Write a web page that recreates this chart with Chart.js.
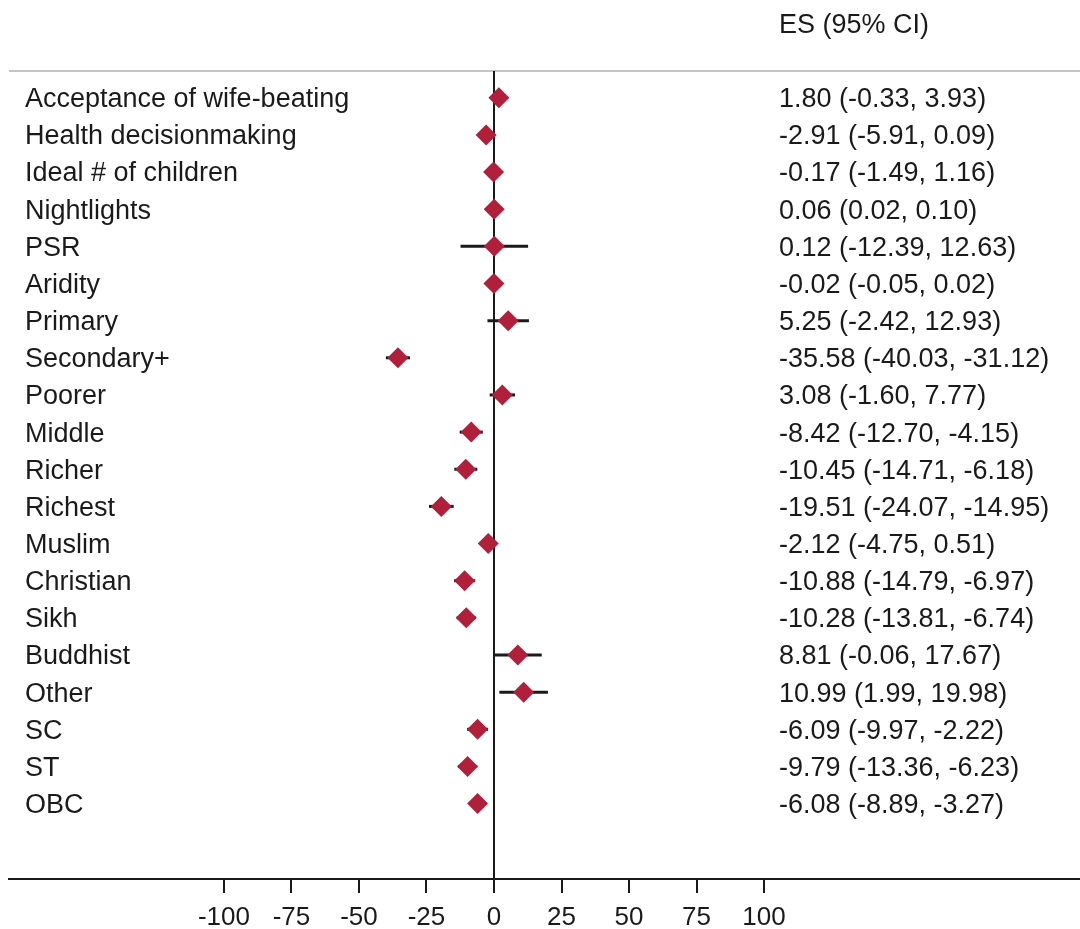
<!DOCTYPE html>
<html>
<head>
<meta charset="utf-8">
<script src="https://cdn.jsdelivr.net/npm/chart.js@4/dist/chart.umd.min.js"></script>
<style>
    html, body { margin: 0; padding: 0; background: #fff; }
    #wrap { width: 1080px; height: 929px; position: relative; }
</style>
</head>
<body>
<div id="wrap"><canvas id="chart"></canvas></div>
<script>
const labels = [
    'Acceptance of wife-beating', 'Health decisionmaking', 'Ideal # of children',
    'Nightlights', 'PSR', 'Aridity', 'Primary', 'Secondary+', 'Poorer', 'Middle',
    'Richer', 'Richest', 'Muslim', 'Christian', 'Sikh', 'Buddhist', 'Other',
    'SC', 'ST', 'OBC',
]
const es = [1.80, -2.91, -0.17, 0.06, 0.12, -0.02, 5.25, -35.58, 3.08, -8.42,
    -10.45, -19.51, -2.12, -10.88, -10.28, 8.81, 10.99, -6.09, -9.79, -6.08]
const lo = [-0.33, -5.91, -1.49, 0.02, -12.39, -0.05, -2.42, -40.03, -1.60, -12.70,
    -14.71, -24.07, -4.75, -14.79, -13.81, -0.06, 1.99, -9.97, -13.36, -8.89]
const hi = [3.93, 0.09, 1.16, 0.10, 12.63, 0.02, 12.93, -31.12, 7.77, -4.15,
    -6.18, -14.95, 0.51, -6.97, -6.74, 17.67, 19.98, -2.22, -6.23, -3.27]
const xTicks = [-100, -75, -50, -25, 0, 25, 50, 75, 100]
const header = 'ES (95% CI)'

const FAMILY = '"Liberation Sans", Arial, sans-serif'
const FONT = '27px ' + FAMILY
const INK = '#1a1a1a'
const RED = '#b11f3a'

const fmt = v => v.toFixed(2)

// one short line per row for the confidence interval
const ciSets = labels.map((_, i) => ({
    type: 'line',
    data: [{ x: lo[i], y: i }, { x: hi[i], y: i }],
    borderColor: INK,
    borderWidth: 3,
    pointRadius: 0,
    order: 2,
}))

const forestText = {
    id: 'forestText',
    beforeDatasetsDraw(chart) {
        const { ctx, chartArea, scales } = chart
        const x0 = scales.x.getPixelForValue(0)
        ctx.save()
        // gray rule under the header
        ctx.strokeStyle = '#c4c4c4'
        ctx.lineWidth = 2
        ctx.beginPath()
        ctx.moveTo(chartArea.left, chartArea.top)
        ctx.lineTo(chartArea.right, chartArea.top)
        ctx.stroke()
        // null line
        ctx.strokeStyle = INK
        ctx.beginPath()
        ctx.moveTo(x0, chartArea.top)
        ctx.lineTo(x0, chartArea.bottom)
        ctx.stroke()
        ctx.restore()
    },
    afterDraw(chart) {
        const { ctx, scales } = chart
        ctx.save()
        ctx.font = FONT
        ctx.fillStyle = INK
        ctx.textBaseline = 'middle'
        ctx.textAlign = 'left'
        labels.forEach((lab, i) => {
            const y = scales.y.getPixelForValue(i) + 2
            ctx.fillText(lab, 25, y)
            ctx.fillText(`${fmt(es[i])} (${fmt(lo[i])}, ${fmt(hi[i])})`, 779, y)
        })
        ctx.fillText(header, 779, 26)
        ctx.restore()
    },
}

new Chart(document.getElementById('chart'), {
    type: 'scatter',
    data: {
        datasets: [
            {
                data: es.map((v, i) => ({ x: v, y: i })),
                pointStyle: 'rectRot',
                pointRadius: 10.5,
                pointHoverRadius: 10.5,
                backgroundColor: RED,
                borderColor: RED,
                borderWidth: 0,
                order: 1,
            },
            ...ciSets,
        ],
    },
    options: {
        responsive: true,
        maintainAspectRatio: false,
        animation: false,
        events: [],
        layout: { autoPadding: false, padding: { left: 9, top: 71, right: 0, bottom: -14 } },
        plugins: { legend: { display: false }, tooltip: { enabled: false } },
        scales: {
            x: {
                type: 'linear',
                min: -179.6,
                max: 217,
                afterBuildTicks: axis => {
                    axis.ticks = xTicks.map(value => ({ value }))
                },
                ticks: {
                    color: INK,
                    font: { family: FAMILY, size: 26, lineHeight: 1 },
                    padding: 12,
                    maxRotation: 0,
                    autoSkip: false,
                },
                grid: {
                    display: true,
                    drawOnChartArea: false,
                    drawTicks: true,
                    tickLength: 14,
                    color: INK,
                    lineWidth: 2,
                },
                border: { display: true, color: INK, width: 2 },
            },
            y: {
                type: 'linear',
                display: false,
                reverse: true,
                min: -0.72,
                max: 21.03,
            },
        },
    },
    plugins: [forestText],
})
</script>
</body>
</html>
